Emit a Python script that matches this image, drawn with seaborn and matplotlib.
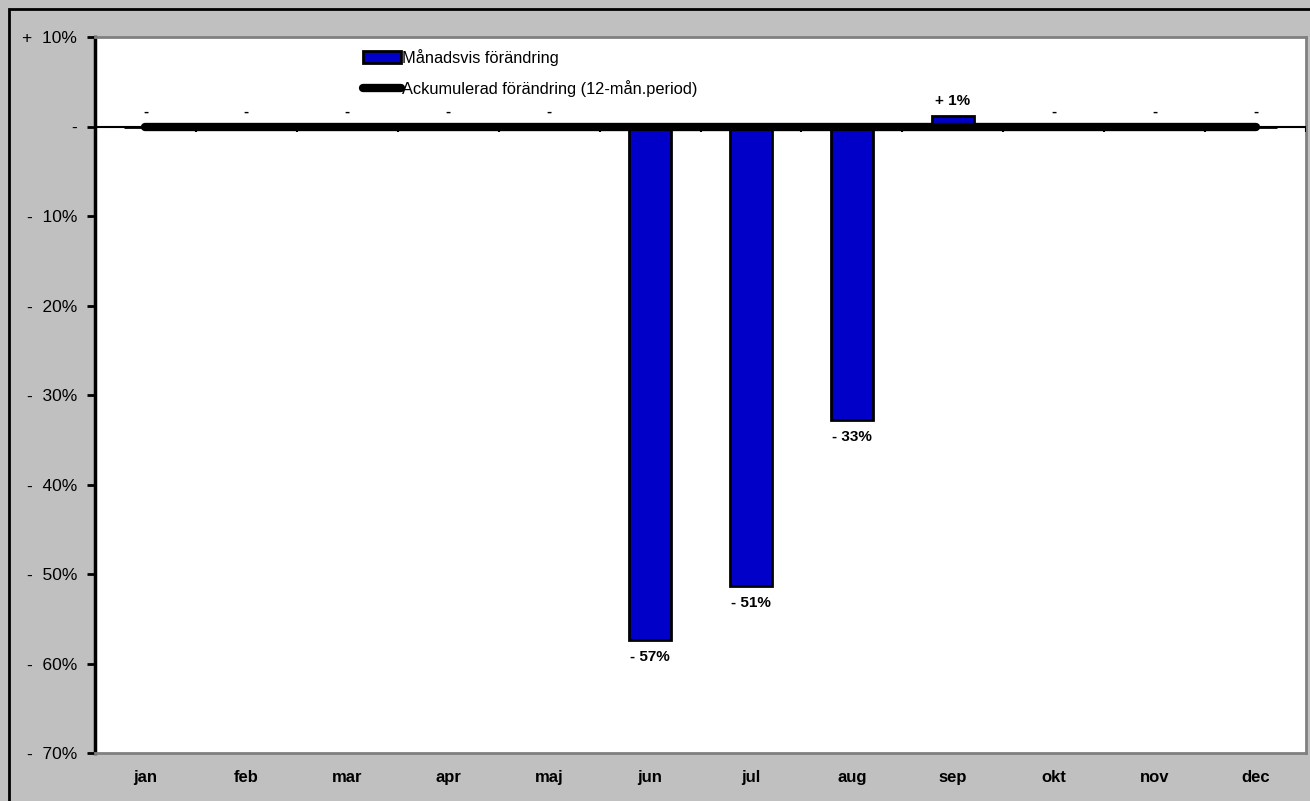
import matplotlib
matplotlib.use("Agg")
import matplotlib.pyplot as plt
import seaborn as sns
import pandas as pd
from matplotlib.patches import Patch, Rectangle
from matplotlib.lines import Line2D

# data (percent)
months = ["jan", "feb", "mar", "apr", "maj", "jun", "jul", "aug", "sep", "okt", "nov", "dec"]
monthly_change = [0, 0, 0, 0, 0, -57.4, -51.3, -32.8, 1.2, 0, 0, 0]
cumulative_change = [0, 0, 0, 0, 0, 0, 0, 0, 0, 0, 0, 0]
monthly_labels = ["-", "-", "-", "-", "-", "- 57%", "- 51%", "- 33%", "+ 1%", "-", "-", "-"]

df = pd.DataFrame({"month": months, "monthly": monthly_change, "cumulative": cumulative_change})

sns.set_style("white")
plt.rcParams["font.family"] = ["Liberation Sans", "DejaVu Sans"]
plt.rcParams["text.color"] = "black"
plt.rcParams["xtick.color"] = "black"
plt.rcParams["ytick.color"] = "black"

fig = plt.figure(figsize=(13.1, 8.01), dpi=100, facecolor="#C0C0C0")
ax = fig.add_axes([95 / 1310, 1 - 753 / 801, 1211 / 1310, 716 / 801])
ax.set_facecolor("white")

sns.barplot(data=df, x="month", y="monthly", color="#0000C8", saturation=1,
            edgecolor="black", linewidth=2, width=0.42, ax=ax)
sns.lineplot(data=df, x="month", y="cumulative", color="black", linewidth=6,
             solid_capstyle="round", ax=ax, zorder=4)

ax.set_xlim(-0.5, 11.5)
ax.set_ylim(-70, 10)
ax.set_xlabel("")
ax.set_ylabel("")

# zero axis line with boundary ticks
ax.axhline(0, color="black", lw=1.5, zorder=3)
ax.vlines([i + 0.5 for i in range(12)], -0.6, 0, color="black", lw=1.5, zorder=3)

# y ticks
yticks = list(range(-70, 11, 10))
def fmt(v):
    if v == 0:
        return "-"
    return ("+  " if v > 0 else "-  ") + f"{abs(v)}%"
ax.set_yticks(yticks)
ax.set_yticklabels([fmt(v) for v in yticks], fontsize=12.5)
ax.tick_params(axis="y", direction="out", length=6, width=2, color="black",
               labelcolor="black", pad=7, left=True)
ax.tick_params(axis="x", length=0, pad=12, labelcolor="black")
for lbl in ax.get_xticklabels():
    lbl.set_fontweight("bold")
    lbl.set_fontsize(12)

for s in ["top", "right", "bottom"]:
    ax.spines[s].set_color("#808080")
    ax.spines[s].set_linewidth(2)
ax.spines["left"].set_color("black")
ax.spines["left"].set_linewidth(2.5)

# data labels
for i, (v, t) in enumerate(zip(monthly_change, monthly_labels)):
    if v < 0:
        off = -17
    elif v > 0:
        off = 15
    else:
        off = 15
    ax.annotate(t, (i, v), xytext=(0, off), textcoords="offset pixels",
                ha="center", va="center", fontsize=11, fontweight="bold", color="black")

handles = [Patch(facecolor="#0000C8", edgecolor="black", linewidth=2),
           Line2D([0], [0], color="black", lw=6, solid_capstyle="round")]
fig.legend(handles, ["Månadsvis förändring", "Ackumulerad förändring (12-mån.period)"],
           loc="upper left", bbox_to_anchor=(363 / 1310, 1 - 49 / 801), frameon=False,
           fontsize=11.8, handlelength=2.3, handleheight=0.7, handletextpad=0.1,
           labelspacing=0.85, borderaxespad=0, borderpad=0, labelcolor="black")

# outer chart border
fig.patches.append(Rectangle((9 / 1310, -0.05), 1.1, 1 - 9 / 801 + 0.05,
                             transform=fig.transFigure, fill=False,
                             edgecolor="black", linewidth=2))

fig.savefig("out.png", dpi=100, facecolor=fig.get_facecolor())
